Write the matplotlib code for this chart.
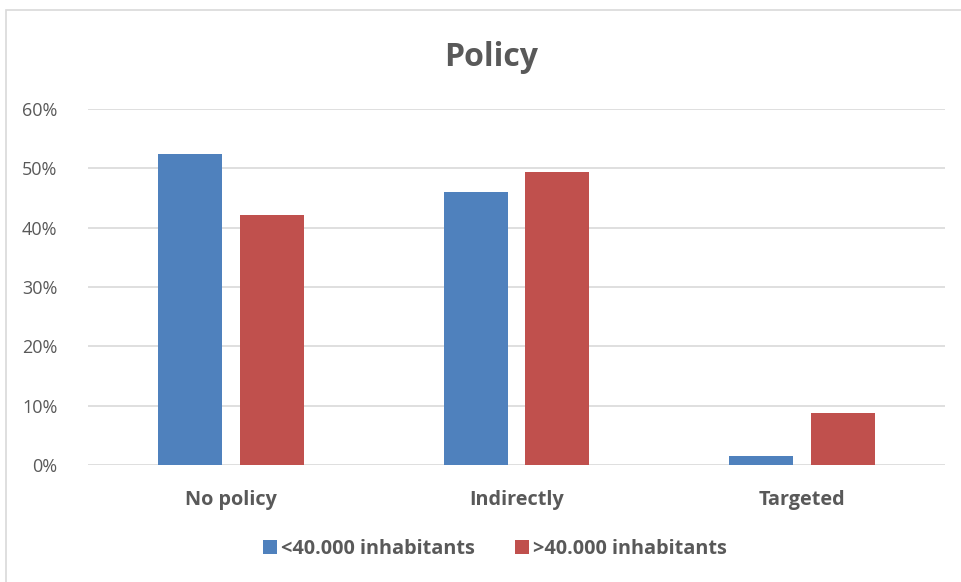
import numpy as np
import matplotlib.pyplot as plt
from matplotlib.patches import Rectangle
from matplotlib.ticker import FuncFormatter

categories = ['No policy', 'Indirectly', 'Targeted']
small_towns = [52.5, 46.0, 1.5]
large_towns = [42.1, 49.3, 8.7]
series_names = ['<40.000 inhabitants', '>40.000 inhabitants']

blue = '#4f81bd'
red = '#c0504d'
grey_text = '#595959'

plt.rcParams['font.family'] = ['Open Sans', 'DejaVu Sans']

fig = plt.figure(figsize=(9.62, 5.82), dpi=100)
ax = fig.add_axes([88 / 962, 1 - 465 / 582, (945 - 88) / 962, (465 - 109) / 582])

# outer chart frame (runs off the right and bottom edges)
fig.patches.append(Rectangle((6 / 962, -0.05), 1.0, 1 - 10 / 582 + 0.05,
                             transform=fig.transFigure, fill=False,
                             edgecolor='#d9d9d9', linewidth=1.2))

x = np.arange(len(categories))
w = 0.224
gap = 0.063
ax.bar(x - (w + gap) / 2, small_towns, w, color=blue, label=series_names[0], zorder=3)
ax.bar(x + (w + gap) / 2, large_towns, w, color=red, label=series_names[1], zorder=3)

ax.set_xlim(-0.5, 2.5)
ax.set_ylim(0, 60)
ax.set_yticks(range(0, 61, 10))
ax.yaxis.set_major_formatter(FuncFormatter(lambda v, p: f'{v:.0f}%'))
ax.grid(axis='y', color='#d9d9d9', linewidth=1.2, zorder=0)
ax.set_xticks(x)
ax.set_xticklabels(categories, fontsize=14.3, fontweight='bold', color=grey_text)
ax.tick_params(axis='y', labelsize=13, labelcolor=grey_text, length=0, pad=22)
ax.tick_params(axis='x', length=0, pad=18)
for s in ax.spines.values():
    s.set_visible(False)

fig.text(491 / 962, 1 - 57 / 582, 'Policy', ha='center', va='center',
         fontsize=23, fontweight='bold', color=grey_text)

leg = fig.legend(loc='center', bbox_to_anchor=(495 / 962, 1 - 549 / 582), ncol=2,
                 frameon=False, handlelength=0.7, handleheight=0.7, handletextpad=0.2,
                 columnspacing=2.0, prop={'size': 14.3, 'weight': 'bold'})
for t in leg.get_texts():
    t.set_color(grey_text)

fig.savefig('out.png', dpi=100)
